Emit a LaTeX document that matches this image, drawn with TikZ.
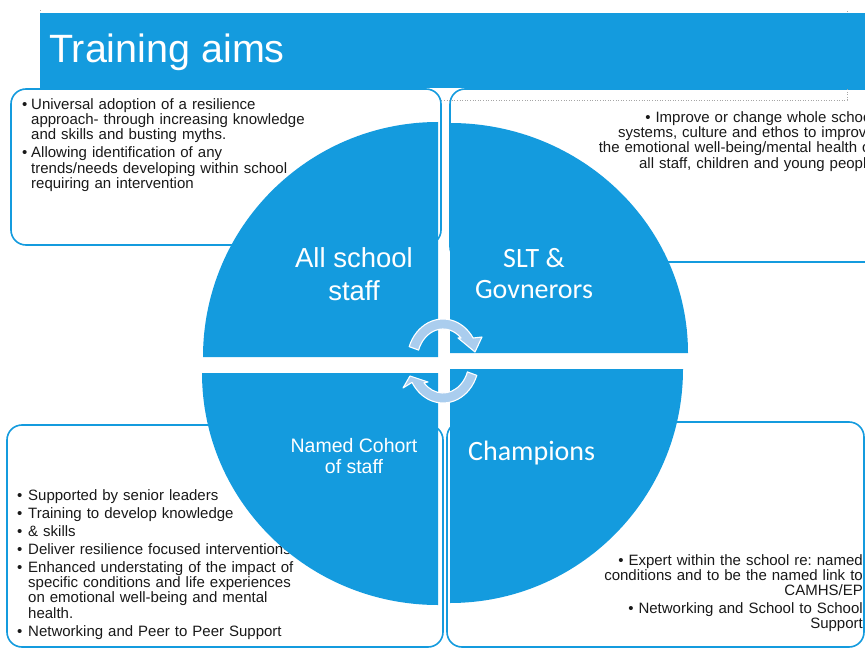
\documentclass[tikz,border=0pt]{standalone}
\usepackage{fontspec}
\setmainfont{Liberation Sans}
\newfontfamily\calibri{Carlito}
\definecolor{aimblue}{RGB}{20,155,222}
\definecolor{arrowfill}{RGB}{170,205,238}
\definecolor{bodytext}{RGB}{25,25,25}
\newcommand{\bulletline}[1]{\makebox[#1][l]{\textbullet}}
\frenchspacing
\begin{document}
\begin{tikzpicture}[x=1pt,y=-1pt,
  panel/.style={draw=aimblue, line width=1.6pt, fill=white, rounded corners=15pt},
  quarter/.style={fill=aimblue},
  cyclearrow/.style={fill=arrowfill, draw=white, line width=1.1pt, line join=round},
  placeholder/.style={draw=gray!70, line width=0.6pt, dotted},
  bodytxt/.style={inner sep=0pt, text=bodytext, text width=#1,
    font=\fontsize{15}{15.3}\selectfont},
  quadlabel/.style={inner sep=0pt, text=white, align=center}
]
\useasboundingbox (0,0) rectangle (865,650);
\clip (0,0) rectangle (865,650);

% outlined panels behind the circle
\path[panel] (450,89) rectangle (885,262);
\path[panel] (7,425) rectangle (443,647);
\path[panel] (447,422) rectangle (864,647);

% title placeholder frame
\draw[placeholder] (40,10) -- (40,100) -- (847,100) -- (847,10);

% title bar
\fill[aimblue] (40,13) rectangle (870,88);
\node[inner sep=0pt, anchor=base west, text=white, font=\fontsize{39.5}{44}\selectfont]
  (title) at (49,63) {Training aims};

\path[panel] (11,89) rectangle (441,245);

% panel texts
\node[bodytxt=330pt, anchor=north west, align=left] (allstafftext) at (22,98) {%
\rule{0pt}{11pt}\bulletline{9pt}Universal adoption of a resilience\\
\hspace*{9pt}approach- through increasing knowledge\\
\hspace*{9pt}and skills and busting myths.\\[2.7pt]
\bulletline{9pt}Allowing identification of any\\
\hspace*{9pt}trends/needs developing within school\\
\hspace*{9pt}requiring an intervention};

\node[bodytxt=330pt, anchor=north east, align=right] (slttext) at (875,111) {%
\rule{0pt}{11pt}\textbullet\ Improve or change whole school\\
systems, culture and ethos to improve\\
the emotional well-being/mental health of\\
all staff, children and young people};

\node[bodytxt=330pt, anchor=north west, align=left] (cohorttext) at (17,489) {%
\rule{0pt}{11pt}\bulletline{11pt}Supported by senior leaders\\[2.7pt]
\bulletline{11pt}Training to develop knowledge\\[2.7pt]
\bulletline{11pt}\& skills\\[2.7pt]
\bulletline{11pt}Deliver resilience focused interventions\\[2.7pt]
\bulletline{11pt}Enhanced understating of the impact of\\
\hspace*{11pt}specific conditions and life experiences\\
\hspace*{11pt}on emotional well-being and mental\\
\hspace*{11pt}health.\\[2.7pt]
\bulletline{11pt}Networking and Peer to Peer Support};

\node[bodytxt=330pt, anchor=north east, align=right] (champtext) at (863,554) {%
\rule{0pt}{11pt}\textbullet\ Expert within the school re: named\\
conditions and to be the named link to\\
CAMHS/EP\\[2.2pt]
\textbullet\ Networking and School to School\\
Support};

% the four quarters of the circle
\path[quarter] (438,357) -- (203,357)
  arc[start angle=180, end angle=270, x radius=235, y radius=235] -- cycle;
\path[quarter] (450,353) -- (450,123)
  arc[start angle=270, end angle=360, x radius=238, y radius=230] -- cycle;
\path[quarter] (438,373) -- (202,373)
  arc[start angle=180, end angle=90, x radius=236, y radius=232] -- cycle;
\path[quarter] (450,369) -- (683,369)
  arc[start angle=0, end angle=90, x radius=233, y radius=234] -- cycle;

% quarter labels
\node[quadlabel, anchor=north, font=\fontsize{27.5}{33}\selectfont] (allstaff) at (354,247)
  {\rule{0pt}{20pt}All school\\staff};
\node[quadlabel, anchor=north, font=\calibri\fontsize{28}{31}\selectfont] (slt) at (534,248)
  {\rule{0pt}{18pt}SLT \&\\Govnerors};
\node[quadlabel, anchor=base west, font=\calibri\fontsize{28}{31}\selectfont] (champions) at (468,460)
  {Champions};
\node[quadlabel, anchor=north, font=\fontsize{19.5}{21}\selectfont] (cohort) at (354,438)
  {\rule{0pt}{14pt}Named Cohort\\of staff};

% circular arrows in the middle
\begin{scope}[shift={(443,361)}]
  \path[cyclearrow] (200:36 and 42)
    arc[start angle=200, end angle=326.8, x radius=36, y radius=42]
    -- (39,-24) -- (32,-9) -- (15,-23) -- (314:26 and 32)
    arc[start angle=314, end angle=200, x radius=26, y radius=32] -- cycle;
  \path[cyclearrow] (20:36 and 42)
    arc[start angle=20, end angle=149.4, x radius=36, y radius=42]
    -- (-40,27) -- (-33,15) -- (-15,21) -- (137:26 and 32)
    arc[start angle=137, end angle=20, x radius=26, y radius=32] -- cycle;
\end{scope}
\end{tikzpicture}
\end{document}
